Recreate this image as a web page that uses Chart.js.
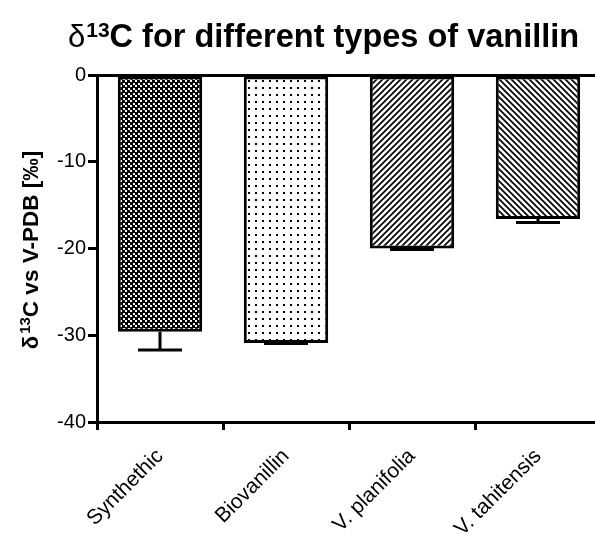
<!DOCTYPE html>
<html>
<head>
<meta charset="utf-8">
<script src="https://cdn.jsdelivr.net/npm/chart.js@4"></script>
<style>
  html, body { margin: 0; padding: 0; background: #fff; overflow: hidden; }
</style>
</head>
<body>
<canvas id="vanillin" width="601" height="538"></canvas>
<script>
const categories = ['Synthethic', 'Biovanillin', 'V. planifolia', 'V. tahitensis'];
const delta13C = [-29.6, -30.9, -20.0, -16.6];
const errors = [2.1, 0.05, 0.12, 0.4];
const yTicks = [0, -10, -20, -30, -40];

const FONT = 'Liberation Sans, Arial, Helvetica, sans-serif';

function makePattern(kind) {
    const c = document.createElement('canvas');
    const p = c.getContext('2d');
    if (kind === 'check') {
        c.width = 5; c.height = 5;
        p.fillStyle = '#000';
        p.fillRect(0, 0, 5, 5);
        p.fillStyle = '#fff';
        p.fillRect(0, 0, 2, 2);
        p.fillRect(3, 3, 2, 2);
    } else if (kind === 'dots') {
        c.width = 7; c.height = 7;
        p.fillStyle = '#fff';
        p.fillRect(0, 0, 7, 7);
        p.fillStyle = '#000';
        p.fillRect(3, 3, 2, 2);
    } else {
        c.width = 6; c.height = 6;
        p.fillStyle = '#fff';
        p.fillRect(0, 0, 6, 6);
        p.strokeStyle = '#000';
        p.lineWidth = 1.7;
        p.beginPath();
        if (kind === 'fwd') {
            p.moveTo(-1, 7); p.lineTo(7, -1);
            p.moveTo(-4, 4); p.lineTo(4, -4);
            p.moveTo(2, 10); p.lineTo(10, 2);
        } else {
            p.moveTo(-1, -1); p.lineTo(7, 7);
            p.moveTo(-4, 2); p.lineTo(4, 10);
            p.moveTo(2, -4); p.lineTo(10, 4);
        }
        p.stroke();
    }
    return p.createPattern(c, 'repeat');
}

// text with a raised "13" after the delta
function drawSuperText(ctx, x, y, parts, align) {
    let total = 0;
    parts.forEach(pt => { ctx.font = pt.font; pt.w = ctx.measureText(pt.text).width; total += pt.w + (pt.gap || 0); });
    let cx = align === 'center' ? x - total / 2 : x;
    ctx.textAlign = 'left';
    ctx.textBaseline = 'alphabetic';
    parts.forEach(pt => {
        ctx.font = pt.font;
        ctx.fillText(pt.text, cx, y - (pt.raise || 0));
        cx += pt.w + (pt.gap || 0);
    });
}

const labels = {
    id: 'labels',
    afterDraw(chart) {
        const ctx = chart.ctx;
        ctx.save();
        ctx.fillStyle = '#000';
        drawSuperText(ctx, 68, 47, [
            { text: 'δ', font: '31px ' + FONT, gap: 1 },
            { text: '13', font: 'bold 21px ' + FONT, raise: 10 },
            { text: 'C for different types of vanillin', font: 'bold 32.5px ' + FONT }
        ], 'left');

        ctx.translate(38, 250);
        ctx.rotate(-Math.PI / 2);
        drawSuperText(ctx, 0, 0, [
            { text: 'δ', font: 'bold 22px ' + FONT, gap: 2 },
            { text: '13', font: 'bold 15px ' + FONT, raise: 8 },
            { text: 'C vs V-PDB [‰]', font: 'bold 22.5px ' + FONT }
        ], 'center');
        ctx.restore();
    }
};

const errorBars = {
    id: 'errorBars',
    afterDatasetsDraw(chart) {
        const ctx = chart.ctx;
        const y = chart.scales.y;
        const meta = chart.getDatasetMeta(0);
        ctx.save();
        ctx.strokeStyle = '#000';
        ctx.lineWidth = 3;
        meta.data.forEach((bar, i) => {
            const v = delta13C[i];
            const yBase = y.getPixelForValue(v);
            const yEnd = y.getPixelForValue(v - errors[i]);
            ctx.beginPath();
            ctx.moveTo(bar.x, yBase);
            ctx.lineTo(bar.x, yEnd);
            ctx.moveTo(bar.x - 22, yEnd);
            ctx.lineTo(bar.x + 22, yEnd);
            ctx.stroke();
        });
        ctx.restore();
    }
};

const el = document.getElementById('vanillin');
new Chart(el, {
    type: 'bar',
    data: {
        labels: categories,
        datasets: [{
            data: delta13C,
            backgroundColor: [makePattern('check'), makePattern('dots'), makePattern('fwd'), makePattern('back')],
            borderColor: '#000',
            borderWidth: 3,
            borderSkipped: false,
            barPercentage: 0.67,
            categoryPercentage: 1
        }]
    },
    options: {
        responsive: false,
        animation: false,
        layout: { padding: { left: 0, right: 0, top: 75, bottom: 0 } },
        plugins: {
            legend: { display: false },
            tooltip: { enabled: false },
            title: { display: false }
        },
        scales: {
            x: {
                grid: { drawOnChartArea: false, tickLength: 8, tickColor: '#000', tickWidth: 3 },
                border: { color: '#000', width: 3 },
                ticks: {
                    color: '#000',
                    minRotation: 45,
                    maxRotation: 45,
                    padding: 14,
                    font: { family: FONT, size: 21 }
                },
                afterFit(scale) { scale.height = 116; }
            },
            y: {
                min: -40,
                max: 0,
                afterBuildTicks(scale) { scale.ticks = yTicks.map(v => ({ value: v })); },
                grid: {
                    color: (c) => (c.tick && c.tick.value === 0 ? '#000' : 'rgba(0,0,0,0)'),
                    lineWidth: 3,
                    tickLength: 9,
                    tickColor: '#000',
                    tickWidth: 3
                },
                border: { color: '#000', width: 3 },
                ticks: {
                    color: '#000',
                    padding: 2,
                    font: { family: FONT, size: 20 }
                },
                afterFit(scale) { scale.width = 97; }
            }
        }
    },
    plugins: [errorBars, labels]
});
</script>
</body>
</html>
